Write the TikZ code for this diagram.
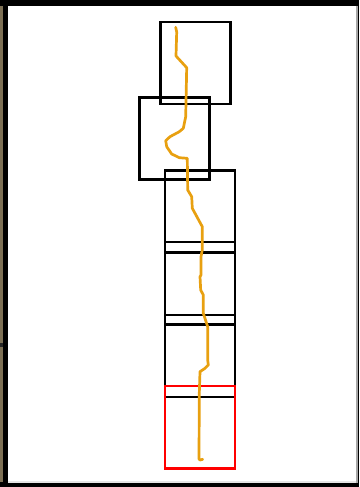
\documentclass[tikz,border=0pt]{standalone}
\begin{document}
\begin{tikzpicture}[x=1pt,y=-1pt,
  box/.style={draw=black,line width=2.6pt,minimum width=70pt,inner sep=0pt,outer sep=0pt,anchor=north west},
  redbox/.style={box,draw=red}]
\definecolor{frameolive}{RGB}{125,112,85}
\definecolor{route}{RGB}{232,160,16}
\useasboundingbox (0,0) rectangle (359,487);
% frame / background
\fill[black] (0,0) rectangle (359,487);
\fill[frameolive] (0,6) rectangle (3.2,482);
\fill[black!85] (0,343) rectangle (3.2,347);
\fill[white] (8,6) rectangle (355.5,482.5);
\fill[gray!70] (356,6) rectangle (358,482.5);
\fill[gray!20] (8,481) rectangle (355.5,482.5);
% boxes
\node[box,minimum height=82pt] (b1) at (160.7,22) {};
\node[box,minimum height=82pt] (b2) at (139.3,97.3) {};
\node[box,minimum height=82.5pt] (b3) at (165,170.2) {};
\node[box,minimum height=82.5pt] (b4) at (165,241.8) {};
\node[box,minimum height=82pt] (b5) at (165,314.8) {};
\node[redbox,minimum height=82.5pt] (b6) at (165,386) {};
% route
\draw[line width=2.7pt,draw=route,line join=round,line cap=round]
 (175.7,27.3) -- (176.7,32) -- (176,56) -- (186.7,67.7) -- (185.7,116.7)
 -- (183.3,128.3) -- (179.3,131.7) -- (170,136.7) -- (165.7,140.7) -- (166.7,146.7)
 -- (171.7,154) -- (179.3,157.7) -- (187.3,158.3) -- (187.7,190) -- (191.7,196.7)
 -- (192.3,208.3) -- (202.3,226.7) -- (202.3,250) -- (201,256.7) -- (201,275)
 -- (200,276.7) -- (200.7,290) -- (203.3,295) -- (203.3,313.3) -- (207.7,326.7)
 -- (207.7,360) -- (208.3,365) -- (205,368.3) -- (200,371.7) -- (199.3,393.3)
 -- (199,459) -- (200,460) -- (202.7,459.3);
\end{tikzpicture}
\end{document}
